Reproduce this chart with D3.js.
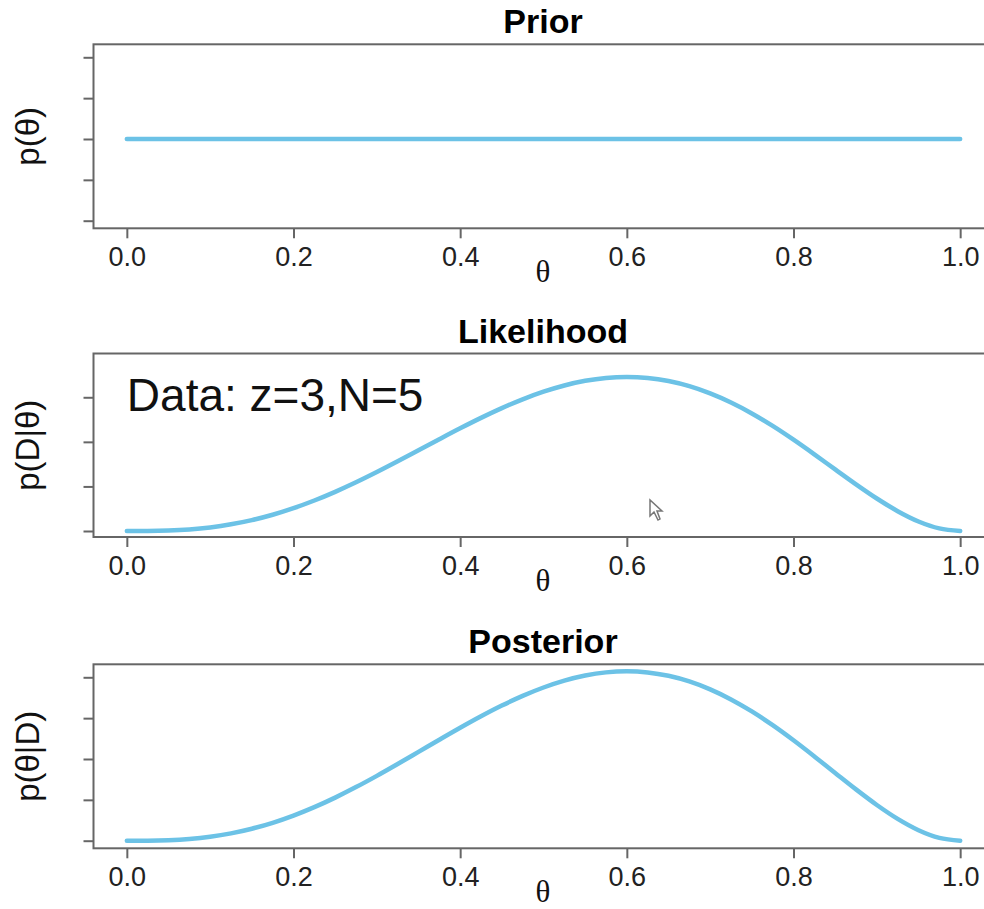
<!DOCTYPE html>
<html>
<head>
<meta charset="UTF-8">
<title>Prior, likelihood, posterior</title>
<script src="https://d3js.org/d3.v7.min.js"></script>
<style>
    body { margin: 0; background: #fff; }
    svg { display: block; }
    .title { font: bold 34px "Liberation Sans", Arial, sans-serif; fill: #000; }
    .ylab { font: 33px "Liberation Sans", Arial, sans-serif; fill: #111; }
    .xlab { font: 31px "Liberation Serif", "Times New Roman", serif; fill: #111; }
    .axis text { font: 27px "Liberation Sans", Arial, sans-serif; fill: #222; }
    .axis line { stroke: #666; stroke-width: 2; }
    .box { fill: none; stroke: #666; stroke-width: 2; }
    .curve { fill: none; stroke: #6cc2e6; stroke-width: 4.5; stroke-linecap: round; }
</style>
</head>
<body>
<script>

// theta grid and the three curves
var theta = [0, 0.025, 0.05, 0.075, 0.1, 0.125, 0.15, 0.175, 0.2, 0.225, 0.25,
             0.275, 0.3, 0.325, 0.35, 0.375, 0.4, 0.425, 0.45, 0.475, 0.5,
             0.525, 0.55, 0.575, 0.6, 0.625, 0.65, 0.675, 0.7, 0.725, 0.75,
             0.775, 0.8, 0.825, 0.85, 0.875, 0.9, 0.925, 0.95, 0.975, 1];
var prior = [1, 1, 1, 1, 1, 1, 1, 1, 1, 1, 1, 1, 1, 1, 1, 1, 1, 1, 1, 1, 1,
             1, 1, 1, 1, 1, 1, 1, 1, 1, 1, 1, 1, 1, 1, 1, 1, 1, 1, 1, 1];
var likelihood = [0, 0.000015, 0.00011, 0.00036, 0.00081, 0.0015, 0.00244, 0.00365,
                  0.00512, 0.00684, 0.00879, 0.01093, 0.01323, 0.01564, 0.01812,
                  0.0206, 0.02304, 0.02538, 0.02757, 0.02954, 0.03125, 0.03265,
                  0.03369, 0.03434, 0.03456, 0.03433, 0.03364, 0.03249, 0.03087,
                  0.02882, 0.02637, 0.02357, 0.02048, 0.0172, 0.01382, 0.01047,
                  0.00729, 0.00445, 0.00214, 0.00058, 0];
var posterior = [0, 0.0009, 0.0068, 0.0217, 0.0486, 0.0897, 0.1463, 0.2189, 0.3072,
                 0.4105, 0.5273, 0.6559, 0.7938, 0.9385, 1.0869, 1.2359, 1.3824,
                 1.5229, 1.6539, 1.7723, 1.875, 1.9589, 2.0215, 2.0603, 2.0736,
                 2.0599, 2.0185, 1.9491, 1.8522, 1.7291, 1.582, 1.4139, 1.2288,
                 1.0318, 0.8291, 0.628, 0.4374, 0.2671, 0.1286, 0.0347, 0];

var xTicks = [0, 0.2, 0.4, 0.6, 0.8, 1.0];
var priorTicks = [0.6, 0.8, 1.0, 1.2, 1.4];
var likelihoodTicks = [0, 0.01, 0.02, 0.03];
var posteriorTicks = [0, 0.5, 1.0, 1.5, 2.0];

var titles = ["Prior", "Likelihood", "Posterior"];
var yLabels = ["p(\u03b8)", "p(D|\u03b8)", "p(\u03b8|D)"];

var width = 984, height = 909;
var boxLeft = 93.5, boxRight = 993.5;

var panels = [
    {title: titles[0], ylab: yLabels[0], values: prior, ticks: priorTicks,
     top: 44.3, bottom: 228.3, ydomain: [0.5628, 1.4636]},
    {title: titles[1], ylab: yLabels[1], values: likelihood, ticks: likelihoodTicks,
     top: 353.5, bottom: 537, ydomain: [-0.001345, 0.03982]},
    {title: titles[2], ylab: yLabels[2], values: posterior, ticks: posteriorTicks,
     top: 664.3, bottom: 848.3, ydomain: [-0.093, 2.159]}
];

var svg = d3.select("body").append("svg")
        .attr("width", width)
        .attr("height", height);

var x = d3.scaleLinear()
        .domain([-0.04, 1.04])
        .range([boxLeft, boxRight]);

panels.forEach(function (p, i) {
    var y = d3.scaleLinear()
            .domain(p.ydomain)
            .range([p.bottom, p.top]);

    var g = svg.append("g");

    // x axis
    var xa = g.append("g")
            .attr("class", "axis")
            .attr("transform", "translate(0," + p.bottom + ")")
            .call(d3.axisBottom(x).tickValues(xTicks).tickSize(10)
                    .tickFormat(d3.format(".1f")));
    xa.select(".domain").remove();
    xa.selectAll("text").attr("y", 38).attr("dy", null).attr("fill", null);
    xa.selectAll("line").attr("stroke", null);

    // y axis, ticks only
    var ya = g.append("g")
            .attr("class", "axis")
            .attr("transform", "translate(" + boxLeft + ",0)")
            .call(d3.axisLeft(y).tickValues(p.ticks).tickSize(10).tickFormat(""));
    ya.select(".domain").remove();
    ya.selectAll("line").attr("stroke", null);

    g.append("rect")
            .attr("class", "box")
            .attr("x", boxLeft)
            .attr("y", p.top)
            .attr("width", boxRight - boxLeft)
            .attr("height", p.bottom - p.top);

    var line = d3.line()
            .x(function (d, k) { return x(theta[k]); })
            .y(function (d) { return y(d); })
            .curve(d3.curveMonotoneX);

    g.append("path")
            .datum(p.values)
            .attr("class", "curve")
            .attr("d", line);

    g.append("text")
            .attr("class", "title")
            .attr("x", 543)
            .attr("y", p.top - 11)
            .attr("text-anchor", "middle")
            .text(p.title);

    g.append("text")
            .attr("class", "xlab")
            .attr("x", 543)
            .attr("y", p.bottom + 54)
            .attr("text-anchor", "middle")
            .text("\u03b8");

    g.append("text")
            .attr("class", "ylab")
            .attr("transform", "translate(39," + ((p.top + p.bottom) / 2) + ") rotate(-90)")
            .attr("text-anchor", "middle")
            .text(p.ylab);

    if (i === 1) {
        g.append("text")
                .attr("x", x(0))
                .attr("y", 411)
                .style("font", "46px 'Liberation Sans', Arial, sans-serif")
                .attr("fill", "#111")
                .text("Data: z=3,N=5");

        // mouse pointer left in the screenshot
        g.append("path")
                .attr("transform", "translate(650,500)")
                .attr("d", "M0,0 L0,16 L4,12 L8,20 L10,19 L7,11 L12,11 Z")
                .attr("fill", "#fff")
                .attr("stroke", "#777")
                .attr("stroke-width", 1.5);
    }
});

</script>
</body>
</html>
